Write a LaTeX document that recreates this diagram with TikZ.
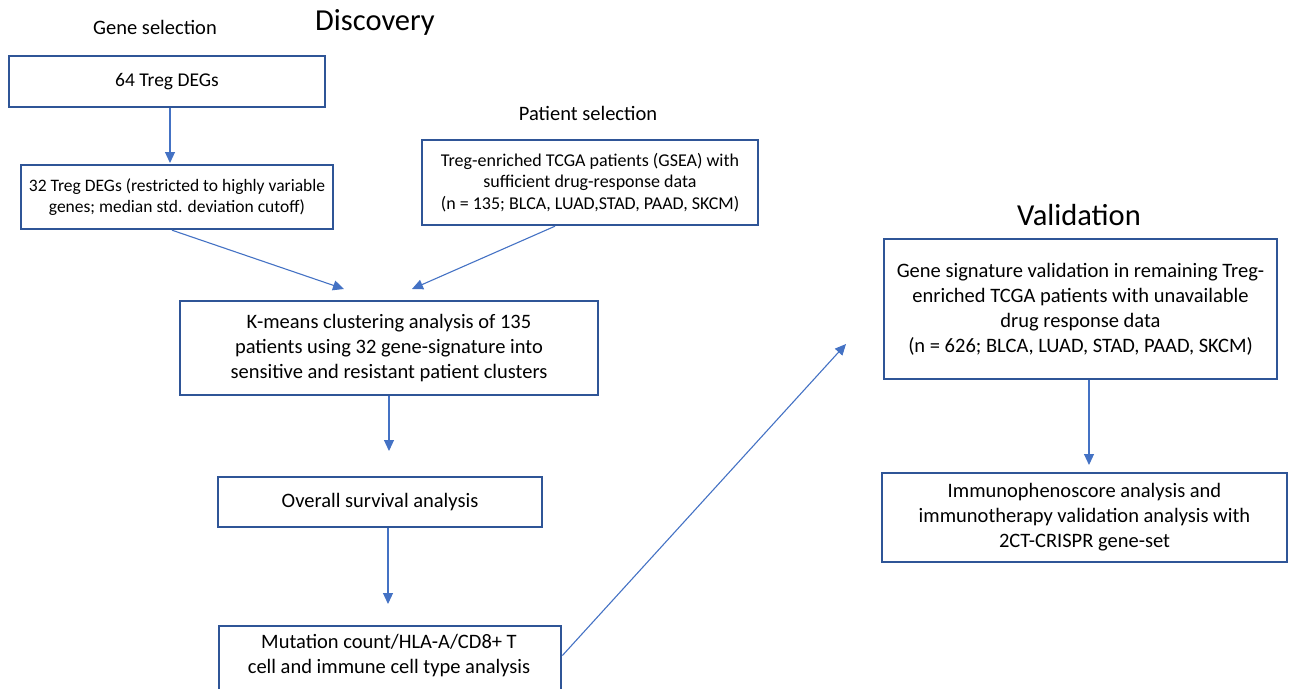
\documentclass[tikz,border=0pt]{standalone}
\usepackage{fontspec}
\setmainfont{Carlito}
\usetikzlibrary{arrows.meta}
\definecolor{boxblue}{HTML}{2F5597}
\definecolor{arrblue}{HTML}{4472C4}
\tikzset{
  box/.style={draw=boxblue, line width=2.4pt, align=center, inner sep=0pt},
  arr/.style={draw=arrblue, line width=1.1pt, -{Triangle[length=11pt,width=10pt]}},
  fbig/.style={font=\fontsize{20.5}{25}\selectfont},
  fmid/.style={font=\fontsize{18}{21.7}\selectfont},
  fsml/.style={font=\fontsize{17.5}{21.7}\selectfont},
  ftitle/.style={font=\fontsize{30.5}{36}\selectfont},
}
\begin{document}
\begin{tikzpicture}[x=1pt,y=-1pt]
\useasboundingbox (0,0) rectangle (1289,688);
\clip (0,0) rectangle (1289,688);
% titles
\node[fbig] (tgene) at (155,27) {Gene selection};
\node[ftitle] (tdisc) at (375,22) {Discovery};
\node[fbig] (tpat) at (588,113) {Patient selection};
\node[ftitle] (tval) at (1079,215) {Validation};
% boxes
\node[box, fbig, font=\fontsize{19.5}{24}\selectfont, minimum width=316pt, minimum height=51pt] (b1) at (167,81.5) {64 Treg DEGs};
\node[box, fsml, minimum width=312pt, minimum height=64pt] (b2) at (177,197) {32 Treg DEGs (restricted to highly variable\\genes; median std. deviation cutoff)};
\node[box, fmid, minimum width=336pt, minimum height=85pt] (b3) at (590,182.5) {Treg-enriched TCGA patients (GSEA) with\\sufficient drug-response data\\(n = 135; BLCA, LUAD,STAD, PAAD, SKCM)};
\node[box, fbig, minimum width=418pt, minimum height=94pt] (b4) at (389,348) {K-means clustering analysis of 135\\patients using 32 gene-signature into\\sensitive and resistant patient clusters};
\node[box, fbig, minimum width=324pt, minimum height=50pt] (b5) at (380,502) {Overall survival analysis};
\node[box, minimum width=342pt, minimum height=90pt, anchor=north west] (b6) at (218,625) {};
\node[fbig, align=center] (b6t) at (389,655.5) {Mutation count/HLA-A/CD8+ T\\cell and immune cell type analysis};
\node[box, fbig, minimum width=393pt, minimum height=140pt] (b7) at (1080.5,309) {Gene signature validation in remaining Treg-\\enriched TCGA patients with unavailable\\drug response data\\ (n = 626; BLCA, LUAD, STAD, PAAD, SKCM)};
\node[box, fbig, minimum width=405pt, minimum height=89pt] (b8) at (1084.5,517.5) {Immunophenoscore analysis and\\immunotherapy validation analysis with\\2CT-CRISPR gene-set};
% arrow tips
\coordinate (t12) at (170,163);
\coordinate (t24) at (344,289);
\coordinate (t34) at (412,289);
\coordinate (t45) at (389,451);
\coordinate (t56) at (388,604);
\coordinate (t67) at (846,344);
\coordinate (t78) at (1089,465);
% connectors
\draw[arr] (t12 |- b1.south) -- (t12);
\draw[arr] ([xshift=-5pt]b2.south) -- (t24);
\draw[arr] ([xshift=-35pt]b3.south) -- (t34);
\draw[arr] (t45 |- b4.south) -- (t45);
\draw[arr] (t56 |- b5.south) -- (t56);
\draw[arr] (b6t -| b6.east) -- (t67);
\draw[arr] (t78 |- b7.south) -- (t78);
\end{tikzpicture}
\end{document}
